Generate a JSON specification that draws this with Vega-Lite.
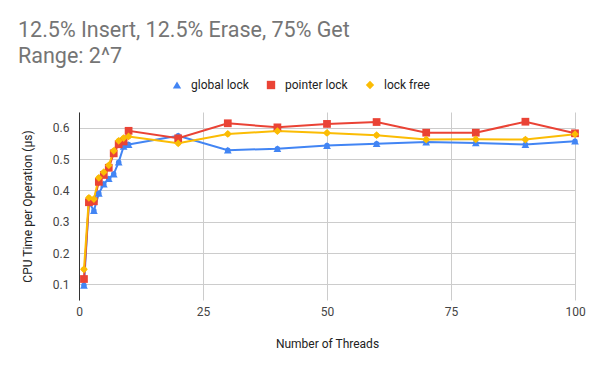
{
  "$schema": "https://vega.github.io/schema/vega-lite/v6.json",
  "autosize": "none",
  "width": 496,
  "height": 188,
  "padding": {"left": 79, "top": 112, "right": 25, "bottom": 71},
  "background": "white",
  "config": {
    "view": {"stroke": null},
    "font": "Roboto"
  },
  "title": {
    "text": ["12.5% Insert, 12.5% Erase, 75% Get", "Range: 2^7"],
    "anchor": "start",
    "frame": "group",
    "dx": -61,
    "offset": 12,
    "font": "Roboto",
    "fontSize": 21.5,
    "fontWeight": "normal",
    "color": "#757575",
    "lineHeight": 26
  },
  "data": {
    "values": [
      {"threads": 1, "series": "global lock", "time": 0.097},
      {"threads": 2, "series": "global lock", "time": 0.362},
      {"threads": 3, "series": "global lock", "time": 0.335},
      {"threads": 4, "series": "global lock", "time": 0.39},
      {"threads": 5, "series": "global lock", "time": 0.42},
      {"threads": 6, "series": "global lock", "time": 0.437},
      {"threads": 7, "series": "global lock", "time": 0.452},
      {"threads": 8, "series": "global lock", "time": 0.49},
      {"threads": 9, "series": "global lock", "time": 0.54},
      {"threads": 10, "series": "global lock", "time": 0.546},
      {"threads": 20, "series": "global lock", "time": 0.574},
      {"threads": 30, "series": "global lock", "time": 0.528},
      {"threads": 40, "series": "global lock", "time": 0.533},
      {"threads": 50, "series": "global lock", "time": 0.543},
      {"threads": 60, "series": "global lock", "time": 0.549},
      {"threads": 70, "series": "global lock", "time": 0.554},
      {"threads": 80, "series": "global lock", "time": 0.551},
      {"threads": 90, "series": "global lock", "time": 0.546},
      {"threads": 100, "series": "global lock", "time": 0.557},
      {"threads": 1, "series": "pointer lock", "time": 0.117},
      {"threads": 2, "series": "pointer lock", "time": 0.362},
      {"threads": 3, "series": "pointer lock", "time": 0.365},
      {"threads": 4, "series": "pointer lock", "time": 0.427},
      {"threads": 5, "series": "pointer lock", "time": 0.449},
      {"threads": 6, "series": "pointer lock", "time": 0.472},
      {"threads": 7, "series": "pointer lock", "time": 0.518},
      {"threads": 8, "series": "pointer lock", "time": 0.547},
      {"threads": 9, "series": "pointer lock", "time": 0.556},
      {"threads": 10, "series": "pointer lock", "time": 0.59},
      {"threads": 20, "series": "pointer lock", "time": 0.566},
      {"threads": 30, "series": "pointer lock", "time": 0.614},
      {"threads": 40, "series": "pointer lock", "time": 0.601},
      {"threads": 50, "series": "pointer lock", "time": 0.612},
      {"threads": 60, "series": "pointer lock", "time": 0.618},
      {"threads": 70, "series": "pointer lock", "time": 0.584},
      {"threads": 80, "series": "pointer lock", "time": 0.584},
      {"threads": 90, "series": "pointer lock", "time": 0.619},
      {"threads": 100, "series": "pointer lock", "time": 0.582},
      {"threads": 1, "series": "lock free", "time": 0.148},
      {"threads": 2, "series": "lock free", "time": 0.376},
      {"threads": 3, "series": "lock free", "time": 0.372},
      {"threads": 4, "series": "lock free", "time": 0.44},
      {"threads": 5, "series": "lock free", "time": 0.458},
      {"threads": 6, "series": "lock free", "time": 0.48},
      {"threads": 7, "series": "lock free", "time": 0.526},
      {"threads": 8, "series": "lock free", "time": 0.558},
      {"threads": 9, "series": "lock free", "time": 0.567},
      {"threads": 10, "series": "lock free", "time": 0.572},
      {"threads": 20, "series": "lock free", "time": 0.55},
      {"threads": 30, "series": "lock free", "time": 0.58},
      {"threads": 40, "series": "lock free", "time": 0.589},
      {"threads": 50, "series": "lock free", "time": 0.583},
      {"threads": 60, "series": "lock free", "time": 0.576},
      {"threads": 70, "series": "lock free", "time": 0.562},
      {"threads": 80, "series": "lock free", "time": 0.563},
      {"threads": 90, "series": "lock free", "time": 0.562},
      {"threads": 100, "series": "lock free", "time": 0.579}
    ]
  },
  "encoding": {
    "x": {
      "field": "threads",
      "type": "quantitative",
      "scale": {"domain": [0, 100], "nice": false},
      "axis": {
        "title": "Number of Threads",
        "values": [0, 25, 50, 75, 100],
        "grid": true,
        "gridColor": "#cccccc",
        "domain": false,
        "ticks": false,
        "labelFlush": false,
        "labelPadding": 6,
        "labelFont": "Roboto",
        "labelFontSize": 12,
        "labelColor": "#444444",
        "titleFont": "Roboto",
        "titleFontSize": 12,
        "titleFontWeight": "normal",
        "titleColor": "#222222",
        "titlePadding": 21
      }
    },
    "y": {
      "field": "time",
      "type": "quantitative",
      "scale": {"domain": [0.05, 0.65], "nice": false, "zero": false},
      "axis": {
        "title": "CPU Time per Operation (µs)",
        "values": [0.1, 0.2, 0.3, 0.4, 0.5, 0.6],
        "format": ".1f",
        "grid": true,
        "gridColor": "#cccccc",
        "domain": true,
        "domainColor": "#333333",
        "ticks": false,
        "labelFlush": false,
        "labelPadding": 10,
        "labelFont": "Roboto",
        "labelFontSize": 12,
        "labelColor": "#444444",
        "titleFont": "Roboto",
        "titleFontSize": 12,
        "titleFontWeight": "normal",
        "titleColor": "#222222",
        "titlePadding": 18
      }
    },
    "color": {
      "field": "series",
      "type": "nominal",
      "sort": ["global lock", "pointer lock", "lock free"],
      "scale": {
        "domain": ["global lock", "pointer lock", "lock free"],
        "range": ["#4285F4", "#EA4335", "#FBBC04"]
      },
      "legend": {
        "title": null,
        "orient": "none",
        "direction": "horizontal",
        "legendX": 92,
        "legendY": -33,
        "labelFont": "Roboto",
        "labelFontSize": 12,
        "labelColor": "#222222",
        "symbolSize": 70,
        "columnPadding": 16,
        "symbolStrokeWidth": 0,
        "labelOffset": 8
      }
    },
    "shape": {
      "field": "series",
      "type": "nominal",
      "sort": ["global lock", "pointer lock", "lock free"],
      "scale": {
        "domain": ["global lock", "pointer lock", "lock free"],
        "range": ["triangle-up", "square", "diamond"]
      },
      "legend": null
    }
  },
  "layer": [
    {
      "mark": {"type": "line", "strokeWidth": 2},
      "encoding": {"shape": {"value": null}}
    },
    {
      "mark": {"type": "point", "filled": true, "opacity": 1, "size": 60}
    }
  ]
}
